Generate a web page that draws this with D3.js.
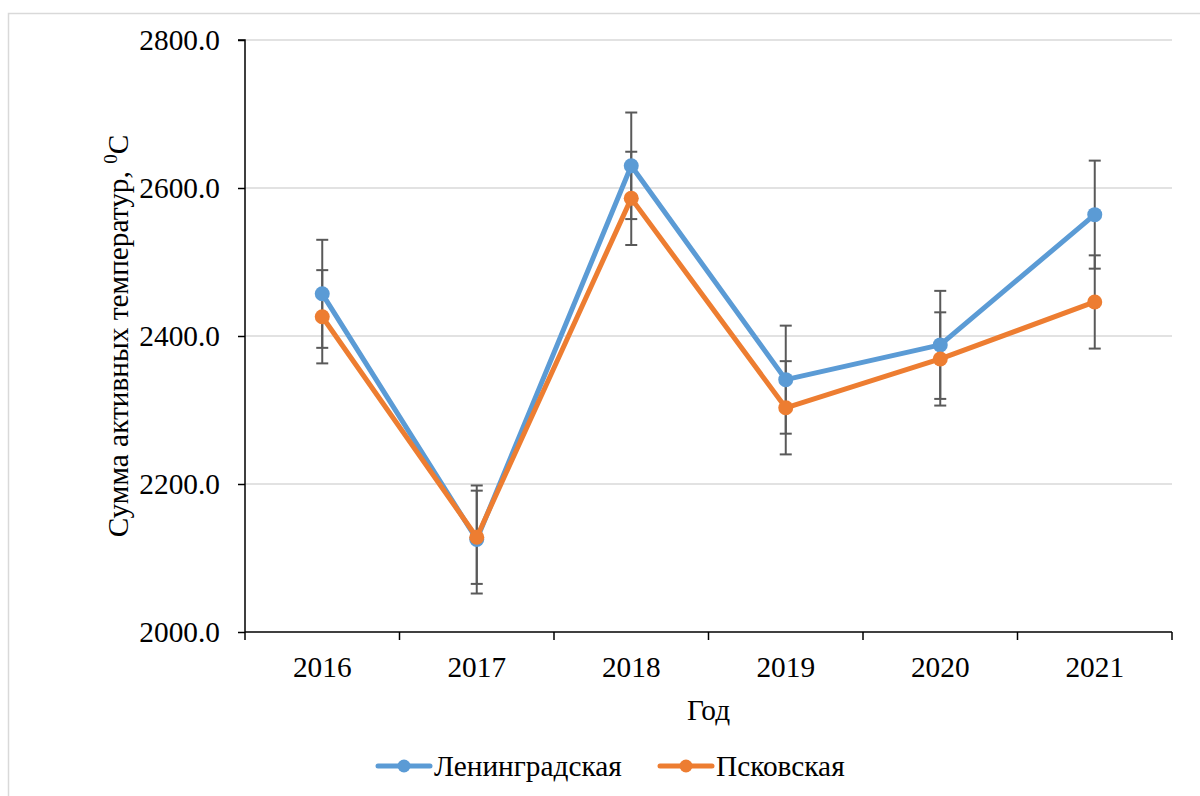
<!DOCTYPE html>
<html>
<head>
<meta charset="utf-8">
<script src="https://cdn.jsdelivr.net/npm/d3@7"></script>
<style>
  html, body { margin: 0; padding: 0; background: #fff; }
  svg { display: block; }
</style>
</head>
<body>
<svg id="chart" width="1200" height="796"></svg>
<script>
// Годы наблюдений
const years = ["2016", "2017", "2018", "2019", "2020", "2021"];
// Сумма активных температур по областям, °C
const leningrad = [2457, 2125, 2630, 2341, 2388, 2564];
const pskov     = [2426, 2128, 2586, 2303, 2369, 2446];
// Погрешности (±)
const leningradErr = [73, 73, 72, 73, 73, 73];
const pskovErr     = [63, 63, 63, 63, 63, 63];
// Деления оси Y
const yTicks = [2000, 2200, 2400, 2600, 2800];

const FONT = "Liberation Serif";
const FS = 29.33;

const series = [
  { name: "Ленинградская", values: leningrad, err: leningradErr, color: "#5B9BD5" },
  { name: "Псковская",     values: pskov,     err: pskovErr,     color: "#ED7D31" }
];

const svg = d3.select("#chart");
const plot = { left: 245, right: 1172, top: 40, bottom: 632 };

// Рамка области диаграммы
svg.append("rect")
  .attr("x", 8.5).attr("y", 13.5)
  .attr("width", 1200).attr("height", 800)
  .attr("fill", "none").attr("stroke", "#d9d9d9").attr("stroke-width", 1.5);

const x = d3.scaleBand().domain(years).range([plot.left, plot.right]);
const y = d3.scaleLinear().domain([2000, 2800]).range([plot.bottom, plot.top]);

// Линии сетки
svg.append("g")
  .selectAll("line")
  .data(yTicks.filter(t => t > 2000))
  .join("line")
  .attr("x1", plot.left).attr("x2", plot.right)
  .attr("y1", d => y(d)).attr("y2", d => y(d))
  .attr("stroke", "#d9d9d9").attr("stroke-width", 1.5);

// Ось Y
const yAxis = svg.append("g")
  .attr("transform", `translate(${plot.left},0)`)
  .call(d3.axisLeft(y).tickValues(yTicks).tickFormat(d3.format(".1f")).tickSize(7).tickPadding(18));
yAxis.attr("font-family", null).attr("font-size", null);
yAxis.selectAll("text")
  .attr("fill", "#000")
  .attr("dy", "0.33em")
  .style("font-family", FONT)
  .style("font-size", FS + "px");
yAxis.select(".domain").attr("stroke", "#000").attr("stroke-width", 1.5).attr("d", `M-7,${plot.top}H0V${plot.bottom}`);
yAxis.selectAll(".tick line").attr("stroke", "#000").attr("stroke-width", 1.5);

// Ось X: деления на границах категорий
const xg = svg.append("g").attr("transform", `translate(0,${plot.bottom})`);
xg.append("line")
  .attr("x1", plot.left).attr("x2", plot.right)
  .attr("y1", 0).attr("y2", 0)
  .attr("stroke", "#000").attr("stroke-width", 1.5);
const boundaries = years.map(d => x(d)).concat([x(years[years.length - 1]) + x.bandwidth()]);
xg.selectAll("line.tick")
  .data(boundaries)
  .join("line")
  .attr("class", "tick")
  .attr("x1", d => d).attr("x2", d => d)
  .attr("y1", 0).attr("y2", 8)
  .attr("stroke", "#000").attr("stroke-width", 1.5);
xg.selectAll("text")
  .data(years)
  .join("text")
  .attr("x", d => x(d) + x.bandwidth() / 2)
  .attr("y", 45)
  .attr("text-anchor", "middle")
  .style("font-family", FONT)
  .style("font-size", FS + "px")
  .text(d => d);

// Подписи осей
svg.append("text")
  .attr("x", (plot.left + plot.right) / 2)
  .attr("y", 720)
  .attr("text-anchor", "middle")
  .style("font-family", FONT)
  .style("font-size", FS + "px")
  .text("Год");

const yTitle = svg.append("text")
  .attr("transform", `translate(128,${(plot.top + plot.bottom) / 2}) rotate(-90)`)
  .attr("text-anchor", "middle")
  .style("font-family", FONT)
  .style("font-size", FS + "px");
yTitle.append("tspan").text("Сумма активных температур, ");
yTitle.append("tspan").attr("dy", -11).style("font-size", "19px").text("0");
yTitle.append("tspan").attr("dy", 11).text("С");

const cx = d => x(d) + x.bandwidth() / 2;

// Планки погрешностей
series.forEach(s => {
  const g = svg.append("g").attr("stroke", "#595959").attr("stroke-width", 2);
  years.forEach((yr, i) => {
    const lo = y(s.values[i] - s.err[i]);
    const hi = y(s.values[i] + s.err[i]);
    g.append("line").attr("x1", cx(yr)).attr("x2", cx(yr)).attr("y1", lo).attr("y2", hi);
    g.append("line").attr("x1", cx(yr) - 6).attr("x2", cx(yr) + 6).attr("y1", lo).attr("y2", lo);
    g.append("line").attr("x1", cx(yr) - 6).attr("x2", cx(yr) + 6).attr("y1", hi).attr("y2", hi);
  });
});

// Линии и маркеры
const line = d3.line().x((d, i) => cx(years[i])).y(d => y(d));
series.forEach(s => {
  svg.append("path")
    .datum(s.values)
    .attr("d", line)
    .attr("fill", "none")
    .attr("stroke", s.color)
    .attr("stroke-width", 5)
    .attr("stroke-linejoin", "round");
  svg.append("g")
    .selectAll("circle")
    .data(s.values)
    .join("circle")
    .attr("cx", (d, i) => cx(years[i]))
    .attr("cy", d => y(d))
    .attr("r", 7.5)
    .attr("fill", s.color);
});

// Легенда
const legendPos = [{ x: 378 }, { x: 660 }];
series.forEach((s, i) => {
  const g = svg.append("g").attr("transform", `translate(${legendPos[i].x},766)`);
  g.append("line").attr("x1", 0).attr("x2", 52).attr("y1", 0).attr("y2", 0)
    .attr("stroke", s.color).attr("stroke-width", 5).attr("stroke-linecap", "round");
  g.append("circle").attr("cx", 26).attr("cy", 0).attr("r", 6.5).attr("fill", s.color);
  g.append("text").attr("x", 56).attr("y", 10)
    .style("font-family", FONT).style("font-size", FS + "px")
    .text(s.name);
});
</script>
</body>
</html>
